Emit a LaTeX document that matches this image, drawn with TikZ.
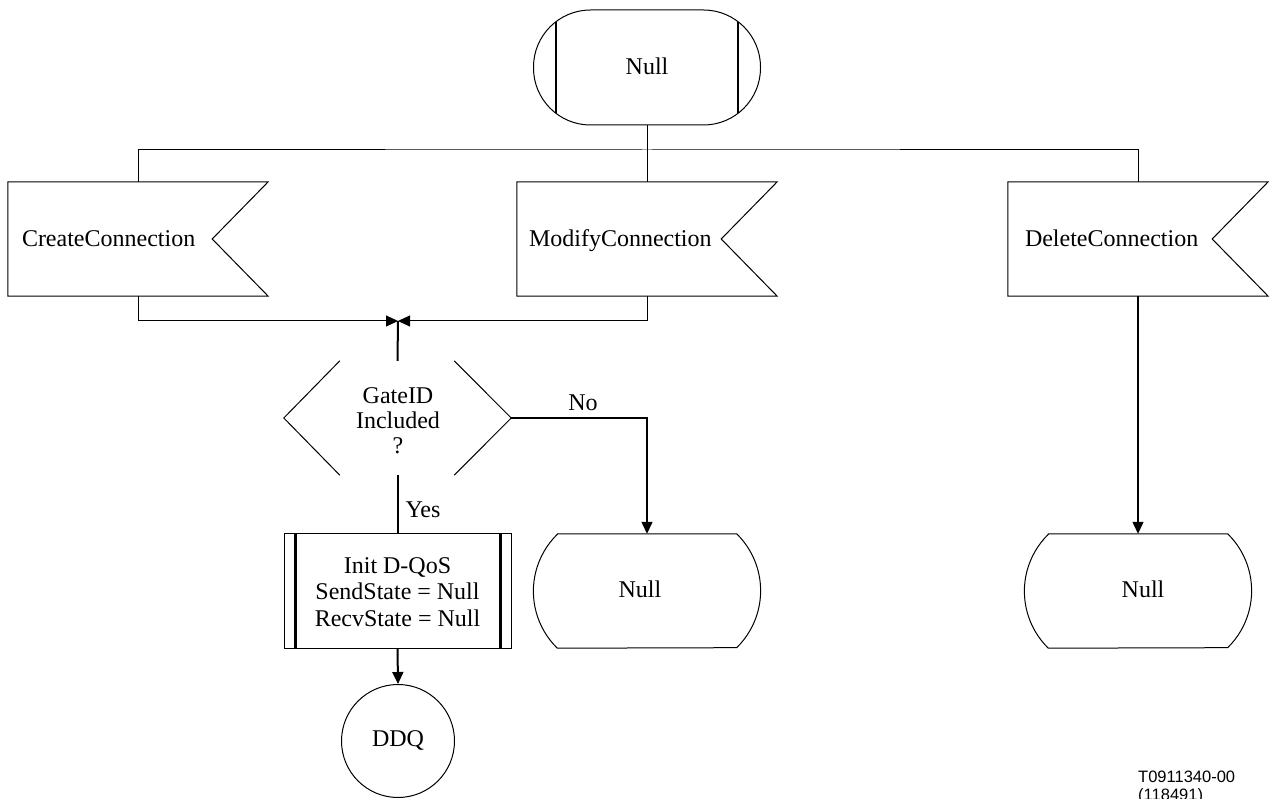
\documentclass[tikz,border=0pt]{standalone}
\usepackage{fontspec}
\setmainfont{Liberation Serif}
\newfontfamily\labelsans{Liberation Sans}
\usetikzlibrary{arrows.meta,calc}
\begin{document}
\begin{tikzpicture}[x=1pt,y=-1pt,
  every node/.style={font=\fontsize{24}{26}\selectfont, inner sep=0pt},
  thinline/.style={line width=1pt},
  thickline/.style={line width=2pt},
  barline/.style={line width=2.2pt},
  box/.style={minimum width=#1, minimum height=114pt},
  arr/.style={-{Triangle[length=12pt,width=11pt]}},
  txt/.style={align=center}]
\useasboundingbox (0,0) rectangle (1270,799);

% top state
\node[box=227pt, minimum height=115pt, draw, thinline, rounded corners=57pt] (s0) at (647,67.5) {};
\node (s0t) at (647,66) {Null};
\draw[barline] ($(s0.center)+(-91,-45.7)$) -- ($(s0.center)+(-91,45.7)$);
\draw[barline] ($(s0.center)+(91,-45.7)$) -- ($(s0.center)+(91,45.7)$);

% input signals
\node[box=260pt] (c1) at (138,239) {};
\node[box=260pt] (c2) at (647,239) {};
\node[box=260pt] (c3) at (1138,239) {};
\foreach \n in {c1,c2,c3}{
  \draw[thinline] (\n.north west) -- (\n.north east) -- ([xshift=-56pt]\n.east) -- (\n.south east) -- (\n.south west) -- cycle;
}
\node[anchor=base west] (c1t) at ($(c1.west)+(14,8)$) {CreateConnection};
\node[anchor=base west] (c2t) at ($(c2.west)+(12,8)$) {ModifyConnection};
\node[anchor=base west] (c3t) at ($(c3.west)+(17,8)$) {DeleteConnection};

% top branching
\coordinate (jtop) at (647,150);
\draw[thinline] (s0.south) -- (c2.north);
\draw[thinline] (c1.north) |- (jtop) -| (c3.north);

% merge
\coordinate (jm) at (398,321);
\draw[thinline, arr] (c1.south) |- (jm);
\draw[thinline, arr] (c2.south) |- (jm);

% decision
\node[box=227pt] (d) at (397.5,418) {};
\draw[thinline] ([xshift=56pt]d.north west) -- (d.west) -- ([xshift=56pt]d.south west);
\draw[thinline] ([xshift=-57pt]d.north east) -- (d.east) -- ([xshift=-57pt]d.south east);
\node[txt, font=\fontsize{24}{25}\selectfont] (dt) at (398,421) {GateID\\Included\\?};
\draw[thickline] (d.north) -- (jm);

% No branch
\node[box=227pt] (n1) at (647,591) {};
\node (n1t) at (640,589) {Null};
\draw[thinline] ([xshift=24pt]n1.north west) -- ([xshift=-24pt]n1.north east)
  arc[start angle=-45.6, end angle=45.6, radius=79.7]
  -- ([xshift=24pt]n1.south west)
  arc[start angle=134.4, end angle=225.6, radius=79.7] -- cycle;
\draw[line width=1.3pt, arr] (d.east) -| (n1.north);
\node (no) at (583,403) {No};

% Delete branch
\node[box=227pt] (n2) at (1138,591) {};
\node (n2t) at (1143,589) {Null};
\draw[thinline] ([xshift=24pt]n2.north west) -- ([xshift=-24pt]n2.north east)
  arc[start angle=-45.6, end angle=45.6, radius=79.7]
  -- ([xshift=24pt]n2.south west)
  arc[start angle=134.4, end angle=225.6, radius=79.7] -- cycle;
\draw[line width=1.3pt, arr] (c3.south) -- (n2.north);

% task
\node[box=227pt, draw, thinline] (t) at (397.5,591) {};
\draw[barline] ([xshift=12pt]t.north west) -- ([xshift=12pt]t.south west);
\draw[barline] ([xshift=-11pt]t.north east) -- ([xshift=-11pt]t.south east);
\node[txt, font=\fontsize{24}{26.5}\selectfont] (tt) at (397.5,592) {Init D-QoS\\SendState = Null\\RecvState = Null};
\draw[thickline] (d.south) -- (t.north);
\node (yes) at (423,510) {Yes};

% connector
\node[circle, draw, thinline, minimum size=113pt] (ddq) at (398,741) {};
\node (ddqt) at (398,740) {DDQ};
\draw[thickline, arr] (t.south) -- (ddq.north);

% tag
\node[anchor=north west, align=left, font=\labelsans\fontsize{16.5}{18}\selectfont] (tag) at (1138,771) {T0911340-00\\(118491)};
\end{tikzpicture}
\end{document}
